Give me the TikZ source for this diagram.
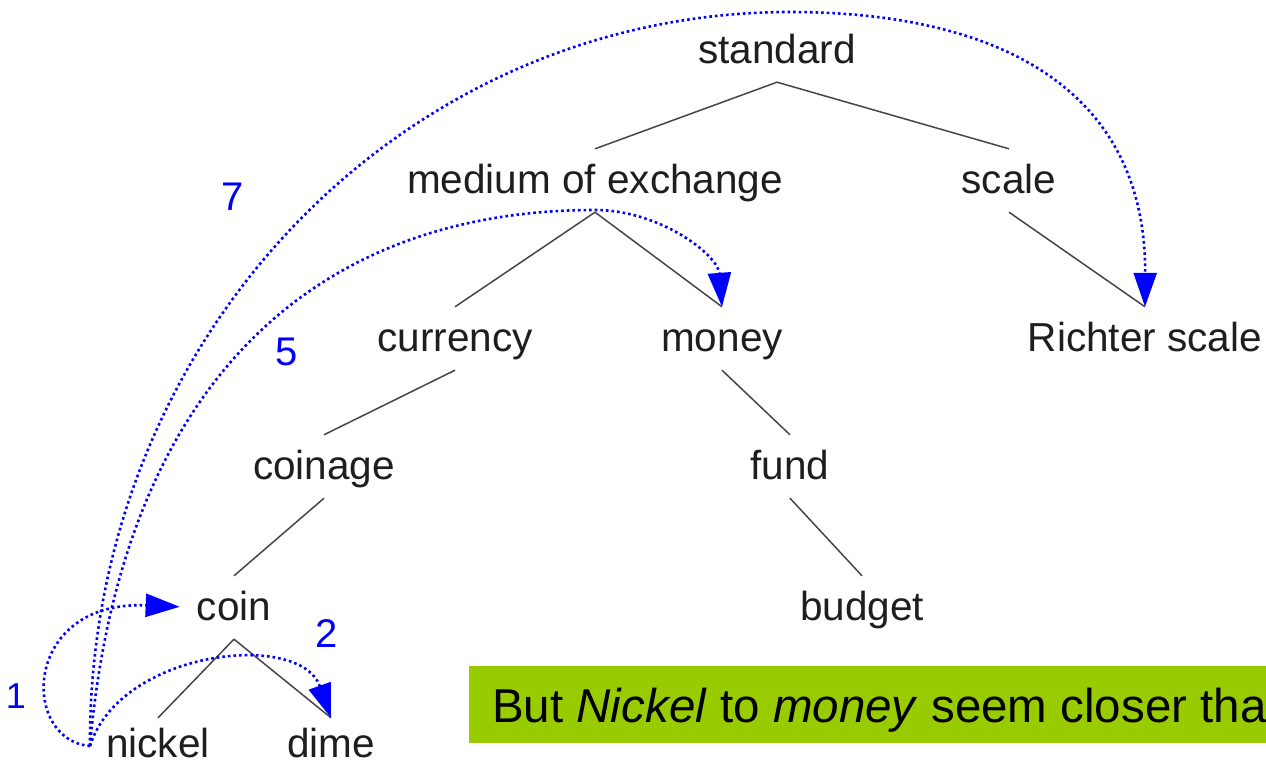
\documentclass[tikz,border=0pt]{standalone}
\usepackage{fontspec}
\setmainfont{Liberation Sans}
\usetikzlibrary{arrows.meta}
\definecolor{slidegreen}{RGB}{153,204,0}
\definecolor{hopblue}{RGB}{0,0,255}
\definecolor{inkgrey}{RGB}{30,30,30}
\definecolor{treeline}{RGB}{70,70,70}
\tikzset{
  term/.style={font=\fontsize{40.5}{48}\selectfont, text=inkgrey, inner sep=0pt,
               anchor=base, text height=44pt, text depth=19pt},
  leafterm/.style={term, text height=39pt, text depth=0pt},
  branch/.style={draw=treeline, line width=1.5pt},
  hop/.style={draw=hopblue, line width=2.6pt, dash pattern=on 2.6pt off 3pt,
              -{Triangle[length=34pt,width=23pt]}, hopblue},
  count/.style={font=\fontsize{40}{48}\selectfont, text=hopblue, anchor=base, inner sep=0pt}
}
\begin{document}
\begin{tikzpicture}[x=1pt,y=-1pt]
  \useasboundingbox (0,0) rectangle (1266,766);
  \clip (0,0) rectangle (1266,766);
  \fill[white] (0,0) rectangle (1266,766);

  % taxonomy terms (placed on their baselines)
  \node[term] (standard) at (777,63)  {standard};
  \node[term] (medium)   at (595,193) {medium of exchange};
  \node[term] (scale)    at (1009,193) {scale};
  \node[term] (currency) at (455,351) {currency};
  \node[term] (money)    at (722,351) {money};
  \node[term] (richter)  at (1145,351) {Richter scale};
  \node[term] (coinage)  at (324,479) {coinage};
  \node[term] (fund)     at (790,479) {fund};
  \node[term] (coin)     at (234,620) {coin};
  \node[term] (budget)   at (862,620) {budget};
  \node[leafterm] (nickel) at (158,757) {nickel};
  \node[leafterm] (dime)   at (331,757) {dime};

  % hypernym links
  \draw[branch] (standard.south) -- (medium.north);
  \draw[branch] (standard.south) -- (scale.north);
  \draw[branch] (medium.south) -- (currency.north);
  \draw[branch] (medium.south) -- (money.north);
  \draw[branch] (scale.south) -- (richter.north);
  \draw[branch] (currency.south) -- (coinage.north);
  \draw[branch] (money.south) -- (fund.north);
  \draw[branch] (coinage.south) -- (coin.north);
  \draw[branch] (fund.south) -- (budget.north);
  \draw[branch] (coin.south) -- (nickel.north);
  \draw[branch] (coin.south) -- (dime.north);

  % path lengths from nickel
  \coordinate (src) at (90,746);
  \draw[hop, shorten >=17pt] (src) .. controls (20,740) and (22,600) .. (coin.west);
  \draw[hop] (src) .. controls (120,650) and (300,630) .. (dime.north);
  \draw[hop] (src) .. controls (120,400) and (300,210) .. (595,210)
                   .. controls (660,210) and (718,255) .. (money.north);
  \draw[hop] (src) .. controls (88,340) and (400,12) .. (790,12)
                   .. controls (1000,12) and (1146,90) .. (richter.north);

  \node[count, font=\fontsize{36}{44}\selectfont] (n1) at (16,708) {1};
  \node[count] (n2) at (327,647) {2};
  \node[count] (n5) at (287,365) {5};
  \node[count] (n7) at (233,210) {7};

  % remark banner
  \fill[slidegreen] (469,666) rectangle (1300,743);
  \node[font=\fontsize{47.5}{56}\selectfont, text=black, anchor=base west, inner sep=0pt]
    (remark) at (492,722) {But \textit{Nickel} to \textit{money} seem closer tha};
\end{tikzpicture}
\end{document}
